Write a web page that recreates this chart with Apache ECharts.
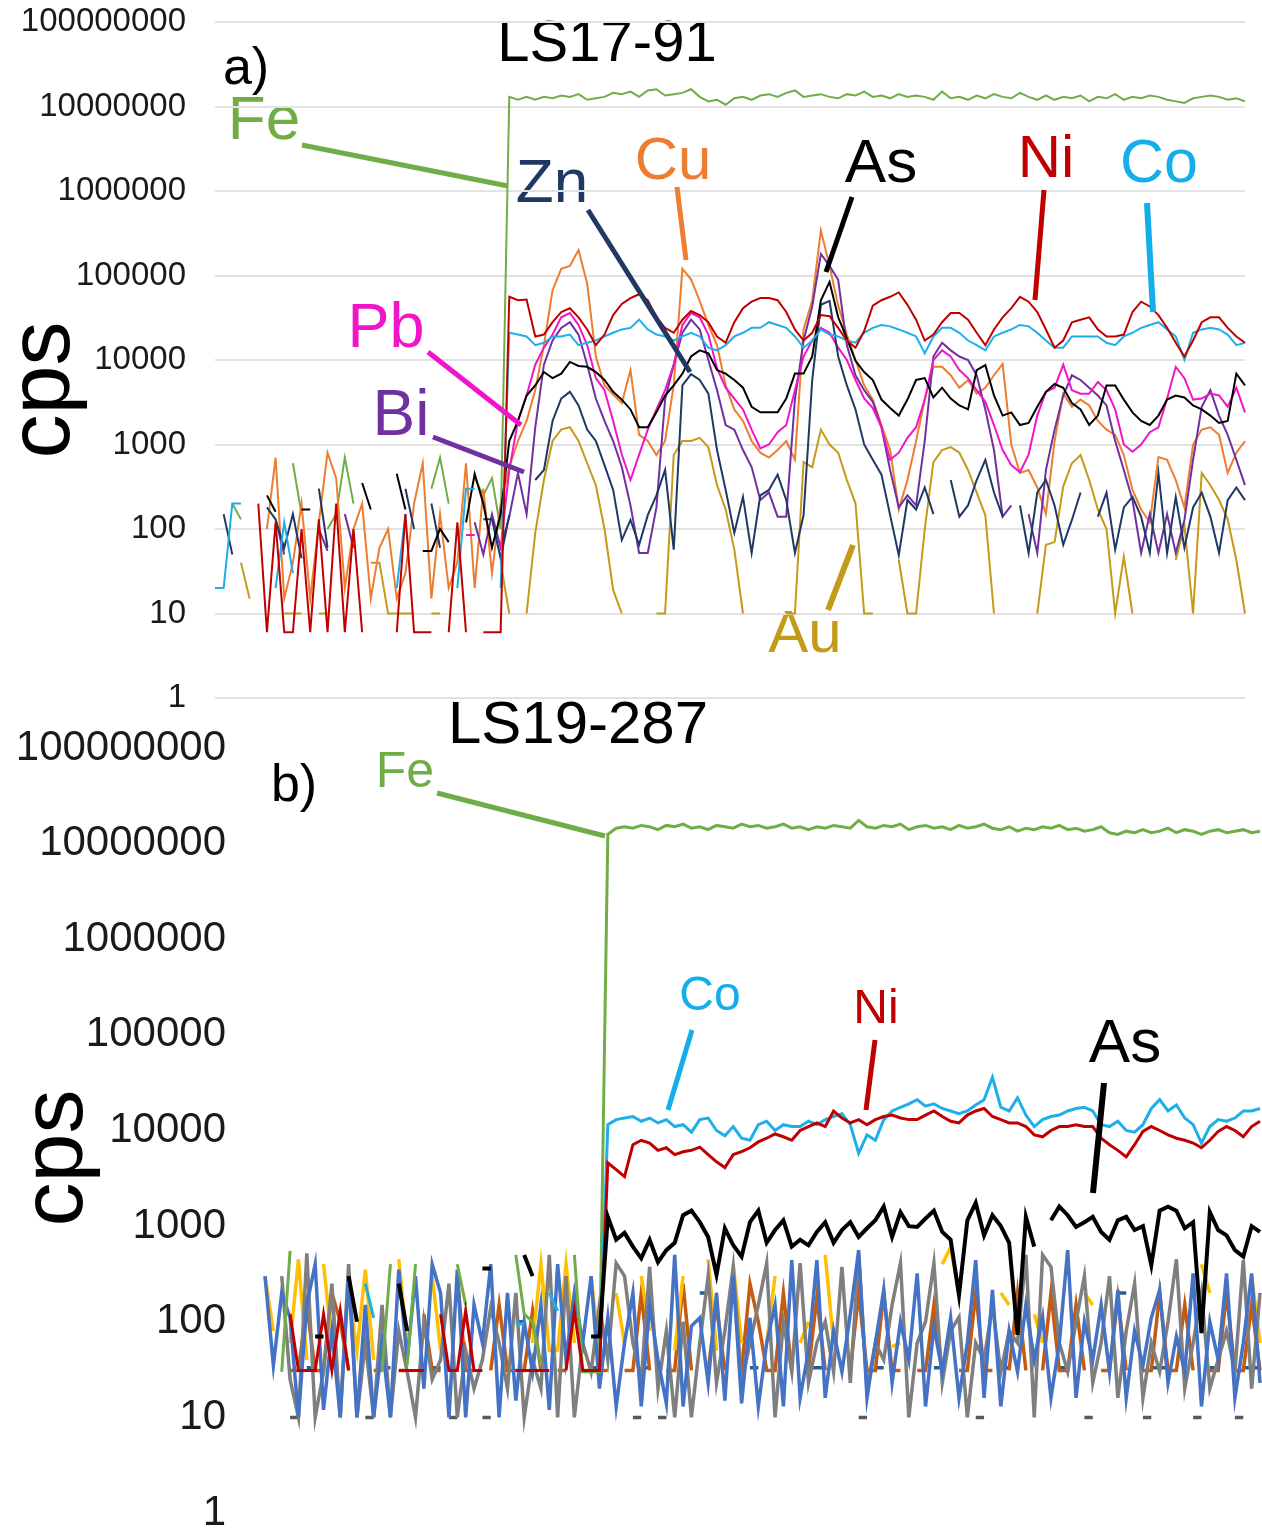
<!DOCTYPE html>
<html>
<head>
<meta charset="utf-8">
<title>LS17-91 / LS19-287</title>
<script src="https://cdn.jsdelivr.net/npm/echarts@6/dist/echarts.min.js"></script>
<style>
html, body { margin: 0; padding: 0; background: #fff; }
#chart { width: 1262px; height: 1538px; }
</style>
</head>
<body>
<div id="chart"></div>
<script>
// decade ticks shared by both panels (cps, log scale)
const yTicks = [1, 10, 100, 1000, 10000, 100000, 1000000, 10000000, 100000000];

// ---- a) LS17-91, cps per sweep, 120 sweeps ----
const feA = [
  null,null,200,130,null,null,null,null,null,600,
  150,null,null,100,150,700,200,null,null,130,
  null,null,null,null,null,300,700,200,null,null,
  400,250,400,100,1.3e7,1.2e7,1.3e7,1.2e7,1.3e7,1.25e7,
  1.35e7,1.3e7,1.4e7,1.2e7,1.25e7,1.3e7,1.45e7,1.4e7,1.5e7,1.3e7,
  1.55e7,1.6e7,1.35e7,1.4e7,1.45e7,1.6e7,1.3e7,1.15e7,1.2e7,1.05e7,
  1.25e7,1.3e7,1.2e7,1.35e7,1.4e7,1.3e7,1.45e7,1.55e7,1.3e7,1.35e7,
  1.4e7,1.3e7,1.25e7,1.4e7,1.35e7,1.5e7,1.3e7,1.35e7,1.25e7,1.4e7,
  1.3e7,1.35e7,1.3e7,1.2e7,1.5e7,1.25e7,1.3e7,1.2e7,1.35e7,1.25e7,
  1.4e7,1.3e7,1.25e7,1.45e7,1.3e7,1.2e7,1.35e7,1.2e7,1.3e7,1.25e7,
  1.35e7,1.15e7,1.3e7,1.25e7,1.4e7,1.2e7,1.3e7,1.25e7,1.35e7,1.3e7,
  1.2e7,1.15e7,1.1e7,1.25e7,1.3e7,1.35e7,1.3e7,1.2e7,1.25e7,1.15e7
];
const niA = [
  null,null,null,null,null,200,6,120,6,6,
  100,6,130,6,200,6,100,6,null,6,
  null,6,150,6,6,6,null,6,120,6,
  null,6,6,6,5.6e4,5.1e4,5.2e4,1.9e4,2e4,2.8e4,
  3.7e4,4.1e4,3.2e4,2.3e4,1.5e4,2e4,3.4e4,4.6e4,5.4e4,6e4,
  5.1e4,3.2e4,2.4e4,2.1e4,3e4,3.8e4,3.4e4,2.8e4,1.9e4,1.6e4,
  2.8e4,4.1e4,4.9e4,5.4e4,5.4e4,5.1e4,3.7e4,2.3e4,1.7e4,2.1e4,
  3.4e4,3.3e4,2.4e4,1.7e4,1.4e4,2.2e4,4.4e4,5.1e4,5.6e4,6.3e4,
  4.5e4,3e4,1.7e4,2e4,2.8e4,3.6e4,3.6e4,3e4,2.1e4,1.5e4,
  2.3e4,3.2e4,4.1e4,5.6e4,4.9e4,3.7e4,2.3e4,1.4e4,1.7e4,2.8e4,
  3e4,3.2e4,2.3e4,1.9e4,1.9e4,2e4,3.7e4,4.9e4,4.3e4,3.4e4,
  2.4e4,1.6e4,1.1e4,1.7e4,2.8e4,3.2e4,3.2e4,2.4e4,1.9e4,1.6e4
];
const coA = [
  20,20,200,200,null,null,null,20,120,30,
  null,null,null,null,null,null,null,null,null,null,
  null,20,150,null,null,null,20,null,20,300,
  300,null,null,20,2.1e4,2e4,1.9e4,1.5e4,1.6e4,1.9e4,
  1.9e4,2e4,1.5e4,1.6e4,1.7e4,1.9e4,2.1e4,2.3e4,2.4e4,3e4,
  2.3e4,2e4,1.9e4,1.7e4,1.9e4,2.1e4,1.9e4,1.4e4,1.3e4,1.5e4,
  1.9e4,2.1e4,2.4e4,2.4e4,2.8e4,2.6e4,2.4e4,1.9e4,1.4e4,1.7e4,
  2.3e4,2e4,1.9e4,1.7e4,1.6e4,2.1e4,2.4e4,2.6e4,2.5e4,2.3e4,
  2.1e4,1.9e4,1.2e4,1.9e4,2.4e4,2.4e4,2.1e4,1.7e4,1.5e4,1.3e4,
  1.9e4,2.1e4,2.3e4,2.6e4,2.5e4,2.1e4,1.7e4,1.4e4,1.4e4,1.9e4,
  1.9e4,1.9e4,1.9e4,1.6e4,1.5e4,1.9e4,2.1e4,2.4e4,2.6e4,2.8e4,
  2.3e4,1.9e4,1e4,2.1e4,2.3e4,2.4e4,2.3e4,2e4,1.5e4,1.6e4
];
const cuA = [
  null,null,null,null,null,null,100,700,15,40,
  200,15,120,800,400,20,100,200,15,60,
  100,15,30,200,600,15,150,20,40,600,
  20,300,30,200,540,1100,1900,4400,1.5e4,6.7e4,
  1.2e5,1.3e5,2e5,8e4,1.1e4,5000,3900,3100,7600,1300,
  1100,750,1100,5000,1.2e5,9e4,5e4,2.6e4,1.5e4,5000,
  2600,1900,1100,800,700,860,1100,660,2.3e4,5.1e4,
  3.4e5,1.3e5,4.4e4,2e4,1e4,5000,3400,1700,860,170,
  380,1100,3400,8300,8300,6600,4700,5800,4000,4700,
  6600,9000,1000,460,500,310,150,1100,4000,2800,
  3400,2900,1900,1500,1300,750,290,170,120,710,
  660,380,180,1000,1500,1600,1300,460,800,1100
];
const asA = [
  null,null,null,null,null,null,250,160,null,null,
  170,170,null,60,null,null,null,350,170,null,
  null,450,170,null,55,55,100,70,null,120,
  450,200,60,150,1100,1900,3800,5000,7200,6100,
  6900,9500,8500,8300,7200,5800,4200,3400,2600,1600,
  1600,2400,3800,5000,6900,1.1e4,1.3e4,1.2e4,7600,6900,
  5800,4700,2800,2400,2400,2400,3500,6900,6900,1.1e4,
  5.1e4,8.4e4,3.2e4,1.8e4,9800,7200,5800,3400,2700,2200,
  3400,5800,6100,3600,4700,3500,2900,2600,7600,8700,
  3800,2200,2400,1700,1800,2800,4200,5200,4700,3100,
  2600,1700,2200,5000,5000,3400,2400,1900,1700,2200,
  3400,3800,3600,2900,2600,2200,1800,1900,6900,5000
];
const znA = [
  null,150,50,null,null,null,180,130,60,150,
  45,null,300,60,null,null,null,null,null,null,
  null,null,300,100,null,200,60,null,null,null,
  null,130,130,45,146,null,null,380,500,1900,
  3500,4200,2900,1500,1100,570,290,74,128,65,
  146,250,500,57,5000,6800,5800,4000,860,290,
  90,240,52,250,290,440,220,52,146,5800,
  4.5e4,5e4,1.1e4,5000,2600,1000,660,440,146,49,
  220,170,310,150,null,380,140,190,380,660,
  270,140,null,190,52,270,380,190,65,128,
  270,null,140,270,57,180,240,140,52,460,
  52,240,60,180,270,140,52,220,310,220
];
const pbA = [
  null,null,null,null,null,null,null,null,null,null,
  null,null,null,null,null,null,null,null,null,null,
  null,null,null,null,null,null,null,null,null,85,
  85,null,null,60,500,1900,3800,8800,1.4e4,2e4,
  3.2e4,3.6e4,2.6e4,1.5e4,6100,4400,1900,760,380,760,
  1500,2600,4400,8800,2.6e4,3.6e4,3.2e4,2e4,8000,4700,
  3500,2600,1500,900,1000,1400,1700,4400,1.1e4,1.7e4,
  2.4e4,2.1e4,1.4e4,1e4,5800,3500,2700,1600,660,800,
  1200,1600,3400,1e4,1.3e4,1.1e4,7600,6100,4400,3200,
  1700,860,570,470,760,2200,4200,4700,8800,4400,
  4000,4000,5500,4400,2600,1000,820,1000,1400,1600,
  3500,8300,6100,3400,3500,4000,3800,2800,4700,2400
];
const biA = [
  null,null,null,null,null,null,null,130,50,null,
  null,null,100,55,null,150,60,null,null,null,
  null,null,null,null,null,null,null,null,null,null,
  120,50,150,60,140,460,150,1600,8800,1.7e4,
  2.4e4,2.8e4,2e4,8800,3500,1900,1100,540,190,52,
  52,180,3400,8800,2.1e4,3e4,2.3e4,1e4,4400,1700,
  1500,860,540,220,270,140,140,3400,1.7e4,4.3e4,
  1.8e5,1.3e5,8.9e4,1.5e4,6600,4400,3200,1600,500,180,
  250,190,1100,1.1e4,1.6e4,1.3e4,1.1e4,1e4,6600,2600,
  860,140,190,null,150,52,500,1500,3800,6600,
  5800,4700,3800,2900,1100,500,220,52,150,52,
  150,52,128,660,2800,4400,2200,1300,660,330
];
const auA = [
  null,null,null,40,15,null,null,null,10,10,
  10,null,10,10,null,null,null,null,40,40,
  10,10,10,10,null,10,10,null,null,null,
  null,null,null,40,10,null,10,90,380,1100,
  1500,1600,1100,600,330,100,19,10,null,10,
  null,10,10,750,1100,1100,1200,930,330,170,
  57,10,null,null,null,null,10,10,620,540,
  1500,1000,800,380,200,10,10,null,null,43,
  10,10,100,620,860,930,800,500,270,146,
  10,null,null,null,null,10,65,70,320,600,
  750,380,170,100,10,47,10,null,null,null,
  null,43,110,10,460,330,220,130,43,10
];

// ---- b) LS19-287, cps per sweep, 120 sweeps ----
const feB = [
  null,null,30,550,null,null,null,null,null,null,
  null,null,null,null,30,400,null,35,400,null,
  null,null,null,400,150,null,null,null,null,null,
  500,120,100,35,null,null,null,500,30,30,
  30,1.25e7,1.45e7,1.5e7,1.45e7,1.55e7,1.5e7,1.4e7,1.55e7,1.5e7,
  1.6e7,1.45e7,1.5e7,1.4e7,1.55e7,1.5e7,1.45e7,1.6e7,1.5e7,1.55e7,
  1.45e7,1.5e7,1.6e7,1.45e7,1.5e7,1.4e7,1.5e7,1.45e7,1.55e7,1.5e7,
  1.45e7,1.75e7,1.5e7,1.45e7,1.55e7,1.5e7,1.6e7,1.4e7,1.5e7,1.55e7,
  1.45e7,1.5e7,1.4e7,1.55e7,1.45e7,1.5e7,1.6e7,1.45e7,1.4e7,1.5e7,
  1.35e7,1.45e7,1.4e7,1.5e7,1.45e7,1.55e7,1.4e7,1.45e7,1.35e7,1.4e7,
  1.5e7,1.3e7,1.25e7,1.35e7,1.3e7,1.4e7,1.3e7,1.35e7,1.45e7,1.3e7,
  1.4e7,1.35e7,1.25e7,1.35e7,1.4e7,1.3e7,1.35e7,1.4e7,1.3e7,1.35e7
];
const coB = [
  null,null,null,null,null,null,null,null,null,null,
  null,null,250,110,null,null,null,null,null,null,
  null,null,null,null,null,null,null,null,null,null,
  95,95,null,null,200,130,null,null,null,null,
  35,1.15e4,1.3e4,1.35e4,1.4e4,1.25e4,1.35e4,1.2e4,1.3e4,1.1e4,
  1.15e4,9600,1.3e4,1.35e4,1e4,8800,1.1e4,8300,7900,1.15e4,
  1.25e4,1e4,1.15e4,1.1e4,1.1e4,1.25e4,1.15e4,1.3e4,1.4e4,1.5e4,
  1.15e4,5800,9000,7900,1.3e4,1.6e4,1.75e4,1.9e4,2.1e4,1.8e4,
  1.9e4,1.7e4,1.6e4,1.5e4,1.6e4,1.85e4,2.1e4,3.6e4,1.75e4,1.6e4,
  2.2e4,1.45e4,1.1e4,1.3e4,1.4e4,1.45e4,1.6e4,1.7e4,1.75e4,1.6e4,
  1.15e4,1.1e4,1.25e4,1e4,9600,1.15e4,1.7e4,2.1e4,1.6e4,1.85e4,
  1.35e4,1.15e4,7400,1.1e4,1.3e4,1.25e4,1.35e4,1.6e4,1.6e4,1.7e4
];
const niB = [
  null,null,null,120,31,31,31,120,31,130,
  31,null,null,null,null,null,31,31,31,31,
  null,120,31,31,130,31,31,null,null,null,
  31,31,31,31,31,null,31,130,31,31,
  31,4600,3900,3300,7100,7900,7400,6200,6600,5600,
  6000,6200,6700,5600,4700,4100,5600,6000,6600,7600,
  8300,9200,8600,7900,1e4,1.1e4,1.2e4,1.1e4,1.6e4,1.35e4,
  1.2e4,1.3e4,1.15e4,1.3e4,1.4e4,1.45e4,1.35e4,1.3e4,1.3e4,1.45e4,
  1.6e4,1.4e4,1.25e4,1.2e4,1.45e4,1.6e4,1.7e4,1.4e4,1.3e4,1.2e4,
  1.2e4,1.1e4,9000,8600,1e4,1.1e4,1.1e4,1.15e4,1.1e4,1.1e4,
  8300,7100,6200,5300,7100,9800,1.1e4,1e4,9000,8300,
  7900,7400,6600,7900,9800,1.1e4,1e4,8600,1.1e4,1.25e4
];
const asB = [
  null,null,null,null,null,null,70,70,null,null,
  300,100,null,null,null,null,250,80,null,null,
  null,null,null,null,null,null,360,360,null,null,
  null,500,300,null,null,null,null,null,null,70,
  70,1250,720,850,610,460,720,420,560,670,
  1300,1450,1100,770,310,950,630,480,1100,1450,
  670,910,1150,610,720,630,870,1100,670,910,
  1100,770,950,1150,1600,770,1400,1000,980,1200,
  1450,870,720,190,1150,1750,800,1300,1000,670,
  73,1250,610,null,1150,1600,1300,980,1100,1250,
  870,720,1150,1250,910,1000,390,1450,1600,1450,
  950,1100,76,1400,910,800,560,480,1000,870
];
// unlabelled background elements of panel b
const blueB = [
  300,35,200,110,10,150,400,12,80,10,
  300,10,150,10,60,10,350,40,300,20,
  400,200,10,350,10,150,60,400,10,200,
  15,100,30,150,12,400,40,200,60,300,
  20,110,13,60,200,13,150,40,14,500,
  13,90,110,23,200,15,300,14,110,13,
  60,150,13,440,16,50,440,16,80,30,
  120,560,16,60,215,23,100,40,320,13,
  90,30,110,16,60,440,16,215,13,80,
  30,150,40,112,16,60,560,16,100,40,
  150,30,215,16,80,35,110,215,23,70,
  30,320,13,100,40,320,16,60,320,23
];
const grayB = [
  null,null,300,25,10,520,10,30,250,10,
  400,10,60,10,150,10,80,30,10,100,
  25,40,250,10,50,20,40,140,60,20,
  200,10,40,20,500,10,300,10,60,30,
  150,40,410,300,60,25,375,20,80,10,
  100,10,60,300,23,80,375,23,60,150,
  410,10,100,30,410,23,60,100,30,375,
  23,500,20,60,40,150,410,10,60,100,
  410,23,80,112,10,60,40,150,30,80,
  60,500,10,500,375,60,30,100,300,23,
  60,300,16,80,250,16,60,30,100,450,
  20,60,200,20,40,80,30,440,20,200
];
const brownB = [
  null,null,null,31,31,150,31,31,200,100,
  31,null,null,31,31,null,31,31,null,120,
  31,31,null,300,31,31,null,31,150,31,
  31,31,130,31,null,31,31,null,31,31,
  31,31,null,31,31,200,31,null,31,31,
  250,31,null,31,150,31,null,31,250,100,
  31,31,200,31,null,31,180,31,null,null,
  31,200,31,31,200,31,31,null,31,31,
  150,31,null,31,31,200,31,31,null,31,
  200,31,null,31,200,31,31,150,31,null,
  31,31,180,31,null,31,31,200,31,31,
  150,31,null,31,31,200,31,31,150,31
];
const yellowB = [
  300,80,null,60,450,40,null,400,60,null,
  200,50,350,40,null,null,450,60,null,null,
  300,50,null,null,null,null,100,null,null,80,
  null,null,60,400,50,50,400,60,null,300,
  50,null,200,60,null,300,80,null,null,50,
  300,null,null,450,50,null,400,60,null,null,
  60,300,null,null,60,100,null,500,60,null,
  null,80,null,300,null,55,60,null,null,200,
  null,400,600,200,null,60,null,null,200,150,
  null,null,120,60,null,100,null,null,200,150,
  null,null,60,null,null,null,100,null,null,60,
  null,null,400,200,null,200,null,null,300,60
];
const navyB = [
  null,null,null,null,null,33,33,null,null,null,
  null,null,null,null,33,33,null,null,null,null,
  33,33,null,null,null,null,null,null,null,null,
  100,100,null,null,null,null,null,null,null,33,
  33,null,null,null,null,33,33,null,null,null,
  null,null,200,200,null,null,null,null,33,33,
  null,null,null,null,null,33,33,33,null,null,
  null,null,null,33,33,null,null,null,null,null,
  33,33,null,null,null,null,null,null,33,33,
  null,null,null,null,null,33,33,null,null,null,
  null,null,200,200,null,null,33,33,33,null,
  null,null,null,33,33,null,null,33,33,33
];
const floorB = [
  null,null,null,10,10,null,null,null,null,null,
  null,null,10,10,null,null,null,null,null,null,
  null,null,10,10,null,null,10,10,null,null,
  null,null,null,null,null,null,null,null,null,null,
  null,null,null,null,10,10,null,10,10,null,
  null,null,null,null,null,null,null,null,null,null,
  null,null,null,null,null,null,null,null,null,null,
  null,10,10,null,null,null,null,null,null,null,
  null,null,null,null,null,10,10,null,null,null,
  null,null,null,null,null,null,null,null,10,10,
  null,null,null,null,null,10,10,null,null,null,
  null,10,10,null,null,null,10,10,null,null
];

const sweepsA = feA.map((v, i) => i + 1);
const sweepsB = feB.map((v, i) => i + 1);

const FONT = '"Liberation Sans", Arial, sans-serif';

function line(name, data, color, width, idx) {
  return {
    name: name,
    type: 'line',
    xAxisIndex: idx,
    yAxisIndex: idx,
    data: data,
    showSymbol: false,
    symbol: 'none',
    connectNulls: false,
    silent: true,
    lineStyle: { color: color, width: width, join: 'miter' },
    itemStyle: { color: color }
  };
}

function label(text, x, y, size, color) {
  return {
    type: 'text', x: x, y: y, silent: true,
    style: {
      text: text, fill: color, fontSize: size, fontFamily: FONT,
      align: 'center', verticalAlign: 'middle',
      textAlign: 'center', textVerticalAlign: 'middle'
    }
  };
}

function leader(x1, y1, x2, y2, color, w) {
  return {
    type: 'line', silent: true, z: 10,
    shape: { x1: x1, y1: y1, x2: x2, y2: y2 },
    style: { stroke: color, lineWidth: w }
  };
}

const C = {
  fe: '#70AD47', zn: '#1F3864', cu: '#ED7D31', as: '#000000', ni: '#C00000',
  co: '#1FAFE8', pb: '#F015C8', bi: '#7030A0', au: '#C49A1A',
  blue: '#4472C4', gray: '#7F7F7F', brown: '#C55A11', yellow: '#FFC000', navy: '#255E91'
};

const chart = echarts.init(document.getElementById('chart'));

const option = {
  animation: false,
  backgroundColor: '#ffffff',
  grid: [
    { left: 215, top: 22, width: 1030, height: 676 },
    { left: 265, top: 748, width: 995, height: 765 }
  ],
  xAxis: [
    { type: 'category', gridIndex: 0, data: sweepsA, boundaryGap: false, show: false },
    { type: 'category', gridIndex: 1, data: sweepsB, boundaryGap: false, show: false }
  ],
  yAxis: [
    {
      type: 'log', logBase: 10, gridIndex: 0, min: yTicks[0], max: yTicks[yTicks.length - 1], splitNumber: 8,
      axisLine: { show: false }, axisTick: { show: false },
      axisLabel: { fontSize: 33, color: '#1a1a1a', fontFamily: FONT, margin: 29, formatter: v => String(Math.round(v)) },
      splitLine: { show: true, lineStyle: { color: '#e2e2e2', width: 2 } }
    },
    {
      type: 'log', logBase: 10, gridIndex: 1, min: yTicks[0], max: yTicks[yTicks.length - 1], splitNumber: 8,
      axisLine: { show: false }, axisTick: { show: false },
      axisLabel: { fontSize: 42, color: '#1a1a1a', fontFamily: FONT, margin: 39, formatter: v => String(Math.round(v)) },
      splitLine: { show: false }
    }
  ],
  series: [
    line('Fe', feA, C.fe, 2, 0),
    line('Au', auA, C.au, 2, 0),
    line('Cu', cuA, C.cu, 2, 0),
    line('Bi', biA, C.bi, 2, 0),
    line('Pb', pbA, C.pb, 2, 0),
    line('Zn', znA, C.zn, 2, 0),
    line('As', asA, C.as, 2, 0),
    line('Co', coA, C.co, 2, 0),
    line('Ni', niA, C.ni, 2, 0),

    line('floor', floorB, '#595959', 3.5, 1),
    line('navy', navyB, C.navy, 3.5, 1),
    line('brown', brownB, C.brown, 3.5, 1),
    line('yellow', yellowB, C.yellow, 3.5, 1),
    line('gray', grayB, C.gray, 3.5, 1),
    line('blue', blueB, C.blue, 3.5, 1),
    line('Fe', feB, C.fe, 3, 1),
    line('Co', coB, C.co, 3, 1),
    line('Ni', niB, C.ni, 3, 1),
    line('As', asB, C.as, 4, 1)
  ],
  graphic: {
    elements: [
      label('LS17-91', 607, 45, 58, '#000'),
      label('a)', 246, 70, 52, '#000'),
      { type: 'text', x: 45, y: 390, rotation: Math.PI / 2, silent: true,
        style: { text: 'cps', fill: '#000', fontSize: 88, fontFamily: FONT,
                 align: 'center', verticalAlign: 'middle', textAlign: 'center', textVerticalAlign: 'middle' } },
      label('Fe', 264, 122, 62, C.fe),
      label('Zn', 552, 185, 62, C.zn),
      label('Cu', 673, 162, 60, C.cu),
      label('As', 881, 165, 62, C.as),
      label('Ni', 1046, 160, 60, C.ni),
      label('Co', 1159, 165, 61, '#14AEEA'),
      label('Pb', 386, 330, 63, C.pb),
      label('Bi', 401, 417, 64, C.bi),
      label('Au', 805, 635, 60, C.au),
      leader(302, 145, 508, 186, C.fe, 5),
      leader(588, 210, 690, 372, C.zn, 5),
      leader(677, 187, 686, 260, C.cu, 5),
      leader(852, 197, 826, 272, C.as, 5),
      leader(1044, 190, 1035, 300, C.ni, 5),
      leader(1147, 203, 1153, 312, '#14AEEA', 6),
      leader(428, 352, 521, 425, C.pb, 5),
      leader(433, 437, 524, 472, C.bi, 5),
      leader(853, 545, 828, 610, C.au, 6),

      label('LS19-287', 578, 726, 60, '#000'),
      label('b)', 294, 787, 52, '#000'),
      { type: 'text', x: 58, y: 1158, rotation: Math.PI / 2, silent: true,
        style: { text: 'cps', fill: '#000', fontSize: 88, fontFamily: FONT,
                 align: 'center', verticalAlign: 'middle', textAlign: 'center', textVerticalAlign: 'middle' } },
      label('Fe', 405, 773, 50, C.fe),
      label('Co', 710, 997, 48, '#14AEEA'),
      label('Ni', 876, 1010, 48, C.ni),
      label('As', 1125, 1045, 62, C.as),
      leader(437, 793, 605, 836, C.fe, 5),
      leader(692, 1030, 668, 1110, '#14AEEA', 5),
      leader(875, 1040, 866, 1110, C.ni, 5),
      leader(1104, 1083, 1093, 1193, C.as, 6)
    ]
  }
};

chart.setOption(option);
</script>
</body>
</html>
